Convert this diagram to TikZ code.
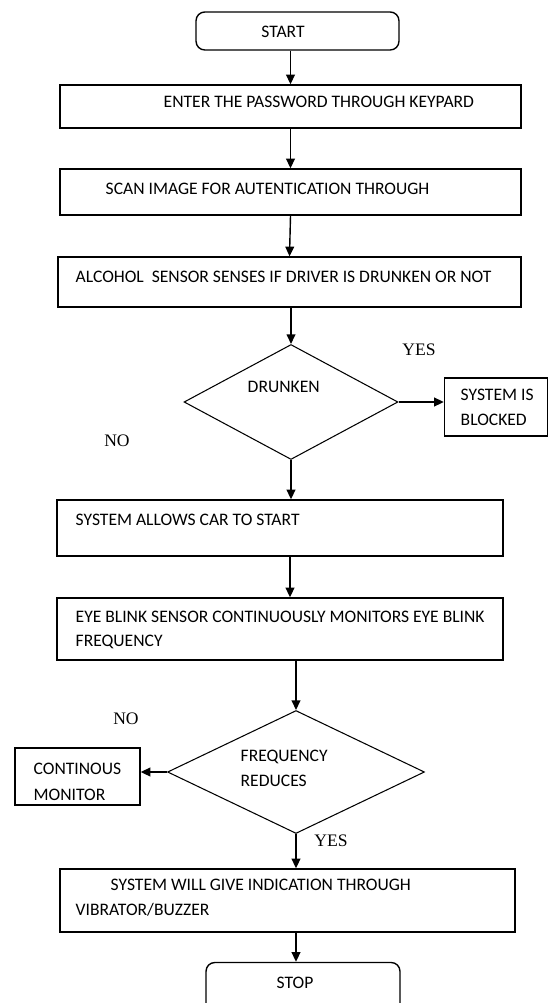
\documentclass[tikz,border=0pt]{standalone}
\usepackage{fontspec}
\setmainfont{Carlito}
\newfontfamily\ansfont{Liberation Serif}
\usetikzlibrary{shapes.geometric,arrows.meta,calc}
\tikzset{
  >={Triangle[length=5.5pt,width=5pt]},
  proc/.style={draw, line width=0.8pt, rectangle, inner sep=0pt},
  term/.style={proc, rounded corners=5pt},
  decide/.style={draw, line width=0.6pt, diamond, inner sep=0pt},
  txt/.style={anchor=west, inner sep=0pt, font=\fontsize{10}{12}\selectfont},
  ans/.style={inner sep=0pt, font=\ansfont\fontsize{10}{12}\selectfont},
}

\begin{document}
\begin{tikzpicture}[x=0.02cm, y=-0.02cm, line width=0.8pt]
    \useasboundingbox (0,0) rectangle (549,1003);
    % shapes
    \node[term, minimum width=4.06cm, minimum height=0.76cm]   (start)   at (297.5,31)  {};
    \node[proc, minimum width=9.22cm, minimum height=0.86cm]   (pass)    at (290.5,106.5) {};
    \node[proc, minimum width=9.22cm, minimum height=0.92cm]   (scan)    at (290.5,192) {};
    \node[proc, minimum width=9.26cm, minimum height=1.00cm]   (alc)     at (289.5,282) {};
    \node[decide, minimum width=4.28cm, minimum height=2.30cm] (drunk)   at (291,402)   {};
    \node[proc, minimum width=2.06cm, minimum height=1.16cm]   (blocked) at (496,407)   {};
    \node[proc, minimum width=8.92cm, minimum height=1.12cm]   (allow)   at (280,528)   {};
    \node[proc, minimum width=8.92cm, minimum height=1.24cm]   (eye)     at (280,629)   {};
    \node[decide, minimum width=5.14cm, minimum height=2.46cm] (freq)    at (296,772)   {};
    \node[proc, minimum width=2.50cm, minimum height=1.14cm]   (cont)    at (77.5,776.5) {};
    \node[proc, minimum width=9.10cm, minimum height=1.26cm]   (warn)    at (287.5,900.5) {};
    \node[term, minimum width=3.88cm, minimum height=1.10cm]   (stop)    at (303,990)   {};
    % texts
    \node[txt, anchor=center] (tstart) at (283,32) {START};
    \node[txt] (tpass)  at (163,102) {ENTER THE PASSWORD THROUGH KEYPARD};
    \node[txt] (tscan)  at (105,189) {SCAN IMAGE FOR AUTENTICATION THROUGH};
    \node[txt] (talc)   at (75,277)  {ALCOHOL\ \ SENSOR SENSES IF DRIVER IS DRUNKEN OR NOT};
    \node[txt] (tdrunk) at (247,387) {DRUNKEN};
    \node[txt] (tblk1)  at (460,395) {SYSTEM IS};
    \node[txt] (tblk2)  at (460,420) {BLOCKED};
    \node[txt] (tallow) at (75,520)  {SYSTEM ALLOWS CAR TO START};
    \node[txt] (teye1)  at (75,617)  {EYE BLINK SENSOR CONTINUOUSLY MONITORS EYE BLINK};
    \node[txt] (teye2)  at (75,642)  {FREQUENCY};
    \node[txt] (tfreq1) at (240,757) {FREQUENCY};
    \node[txt] (tfreq2) at (240,781) {REDUCES};
    \node[txt] (tcont1) at (33,769)  {CONTINOUS};
    \node[txt] (tcont2) at (33,795)  {MONITOR};
    \node[txt] (twarn1) at (110,885) {SYSTEM WILL GIVE INDICATION THROUGH};
    \node[txt] (twarn2) at (75,910)  {VIBRATOR/BUZZER};
    \node[txt, anchor=center] (tstop) at (295,983) {STOP};
    % answers
    \node[ans] (yes1) at (419,350) {YES};
    \node[ans] (no1)  at (117,441) {NO};
    \node[ans] (no2)  at (126,719) {NO};
    \node[ans] (yes2) at (331,841) {YES};
    % connectors
    \draw[->] (start.south -| pass.north) -- (pass.north);
    \draw[->] (pass.south) -- (scan.north);
    \draw[->] (scan.south) -- (alc.north);
    \draw[->] (alc.south -| drunk.north) -- (drunk.north);
    \draw[->] (drunk.east) -- (drunk.east -| blocked.west);
    \draw[->] (drunk.south) -- (drunk.south |- allow.north);
    \draw[->] ($(allow.south)+(10,0)$) -- ($(eye.north)+(10,0)$);
    \draw[->] (eye.south -| freq.north) -- (freq.north);
    \draw[->] (freq.west) -- (freq.west -| cont.east);
    \draw[->] (freq.south) -- (freq.south |- warn.north);
    \draw[->] (freq.south |- warn.south) -- (freq.south |- stop.north);
\end{tikzpicture}
\end{document}
